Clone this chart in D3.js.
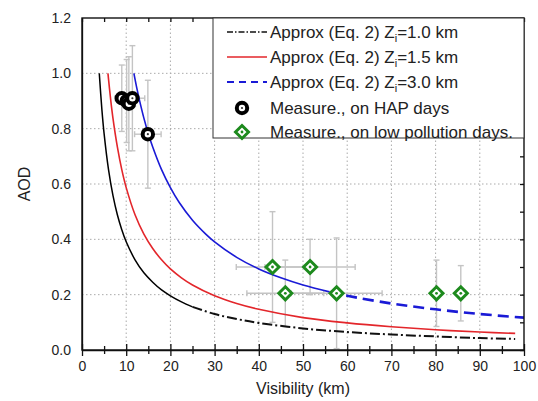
<!DOCTYPE html>
<html>
<head>
<meta charset="utf-8">
<script src="https://cdn.jsdelivr.net/npm/d3@7"></script>
<style>
  body { margin: 0; background: #fff; }
  svg { display: block; font-family: "Liberation Sans", Arial, sans-serif; }
</style>
</head>
<body>
<svg id="chart" width="538" height="401"></svg>
<script>
// approximation curves, values
const blackVis = [3.91, 4.5, 5, 6, 7, 8, 9, 10, 12, 14, 16, 18, 20, 22.5, 25, 30, 35, 40, 50, 60, 70, 80, 90, 98]
const blackAod = [1.0, 0.869, 0.782, 0.652, 0.559, 0.489, 0.435, 0.391, 0.326, 0.279, 0.245, 0.217, 0.196, 0.174, 0.156, 0.130, 0.112, 0.098, 0.078, 0.065, 0.056, 0.049, 0.043, 0.040]

const redVis = [5.87, 6.5, 7, 8, 9, 10, 12, 14, 16, 18, 20, 22.5, 25, 30, 35, 40, 50, 60, 70, 80, 90, 98]
const redAod = [1.0, 0.903, 0.838, 0.734, 0.652, 0.587, 0.489, 0.419, 0.367, 0.326, 0.293, 0.261, 0.235, 0.196, 0.168, 0.147, 0.117, 0.098, 0.084, 0.073, 0.065, 0.060]

const blueVis = [11.74, 12.5, 13, 14, 15, 16, 18, 20, 22, 25, 28, 30, 35, 40, 45, 50, 56, 60, 70, 80, 90, 100]
const blueAod = [1.0, 0.939, 0.903, 0.838, 0.782, 0.734, 0.652, 0.587, 0.533, 0.469, 0.419, 0.391, 0.335, 0.293, 0.261, 0.235, 0.210, 0.196, 0.168, 0.147, 0.130, 0.117]

// measurements on HAP days
const hapVis = [9.0, 10.1, 10.6, 11.4, 14.9]
const hapAod = [0.91, 0.90, 0.89, 0.91, 0.78]
const hapVisErr = [1.5, 1.2, 1.5, 2.8, 3.0]
const hapAodErr = [0.12, 0.15, 0.17, 0.19, 0.195]

// measurements on low pollution days
const lowVis = [43.1, 46.0, 51.6, 57.6, 80.2, 85.7]
const lowAod = [0.30, 0.205, 0.30, 0.205, 0.205, 0.205]
const lowVisErr = [8.2, 8.7, 10.2, 10.3, 0, 0]
const lowAodErr = [0.2, 0.12, 0.1, 0.2, 0.12, 0.1]

const xTicks = [0, 10, 20, 30, 40, 50, 60, 70, 80, 90, 100]
const xMinor = [5, 15, 25, 35, 45, 55, 65, 75, 85, 95]
const yTicks = [0, 0.2, 0.4, 0.6, 0.8, 1.0, 1.2]
const yMinor = [0.1, 0.3, 0.5, 0.7, 0.9, 1.1]

const legendLabels = ['=1.0 km', '=1.5 km', '=3.0 km']

const svg = d3.select('#chart')
const x = d3.scaleLinear().domain([0, 100]).range([82, 524])
const y = d3.scaleLinear().domain([0, 1.2]).range([350, 18])

// grid
svg.append('g').selectAll('line')
  .data(xTicks.slice(1, -1))
  .join('line')
    .attr('x1', d => x(d)).attr('x2', d => x(d))
    .attr('y1', y(0)).attr('y2', y(1.2))
    .attr('stroke', '#aaa').attr('stroke-dasharray', '1.5,2.5')
svg.append('g').selectAll('line')
  .data(yTicks.slice(1, -1))
  .join('line')
    .attr('y1', d => y(d)).attr('y2', d => y(d))
    .attr('x1', x(0)).attr('x2', x(100))
    .attr('stroke', '#aaa').attr('stroke-dasharray', '1.5,2.5')

// error bars
const errColor = '#c4c4c4'
function errorBars(vis, aod, vErr, aErr) {
  const g = svg.append('g').attr('stroke', errColor).attr('stroke-width', 1.4)
  vis.forEach((v, i) => {
    const a = aod[i]
    if (aErr[i] > 0) {
      g.append('line').attr('x1', x(v)).attr('x2', x(v)).attr('y1', y(a - aErr[i])).attr('y2', y(a + aErr[i]))
      g.append('line').attr('x1', x(v) - 3).attr('x2', x(v) + 3).attr('y1', y(a - aErr[i])).attr('y2', y(a - aErr[i]))
      g.append('line').attr('x1', x(v) - 3).attr('x2', x(v) + 3).attr('y1', y(a + aErr[i])).attr('y2', y(a + aErr[i]))
    }
    if (vErr[i] > 0) {
      g.append('line').attr('y1', y(a)).attr('y2', y(a)).attr('x1', x(v - vErr[i])).attr('x2', x(v + vErr[i]))
      g.append('line').attr('y1', y(a) - 3).attr('y2', y(a) + 3).attr('x1', x(v - vErr[i])).attr('x2', x(v - vErr[i]))
      g.append('line').attr('y1', y(a) - 3).attr('y2', y(a) + 3).attr('x1', x(v + vErr[i])).attr('x2', x(v + vErr[i]))
    }
  })
}
errorBars(lowVis, lowAod, lowVisErr, lowAodErr)
errorBars(hapVis, hapAod, hapVisErr, hapAodErr)

// curves
const line = d3.line().x(d => x(d[0])).y(d => y(d[1])).curve(d3.curveCatmullRom.alpha(0.5))
const pts = (vs, as) => vs.map((v, i) => [v, as[i]])
const black = pts(blackVis, blackAod)
const red = pts(redVis, redAod)
const blue = pts(blueVis, blueAod)

svg.append('path').attr('d', line(black.filter(d => d[0] <= 25)))
  .attr('fill', 'none').attr('stroke', '#000').attr('stroke-width', 1.5)
svg.append('path').attr('d', line(black.filter(d => d[0] >= 25)))
  .attr('fill', 'none').attr('stroke', '#111').attr('stroke-width', 2)
  .attr('stroke-dasharray', '10,3,2,3')
svg.append('path').attr('d', line(red))
  .attr('fill', 'none').attr('stroke', '#e3262b').attr('stroke-width', 1.6)
svg.append('path').attr('d', line(blue.filter(d => d[0] <= 56)))
  .attr('fill', 'none').attr('stroke', '#1a1ad6').attr('stroke-width', 1.6)
svg.append('path').attr('d', line(blue.filter(d => d[0] >= 56)))
  .attr('fill', 'none').attr('stroke', '#1a1ad6').attr('stroke-width', 2.6)
  .attr('stroke-dasharray', '11,6')

// markers
function hapMarker(g, cx, cy) {
  g.append('circle').attr('cx', cx).attr('cy', cy).attr('r', 5.2).attr('fill', '#fff')
    .attr('stroke', '#000').attr('stroke-width', 4)
  g.append('circle').attr('cx', cx).attr('cy', cy).attr('r', 1.1).attr('fill', '#333')
}
function lowMarker(g, cx, cy) {
  const s = 6.5
  g.append('path').attr('d', `M${cx},${cy - s}L${cx + s},${cy}L${cx},${cy + s}L${cx - s},${cy}Z`)
    .attr('fill', '#fff').attr('stroke', '#1d8a1d').attr('stroke-width', 3)
  g.append('circle').attr('cx', cx).attr('cy', cy).attr('r', 1.4).attr('fill', '#1d8a1d')
}
const mk = svg.append('g')
hapVis.forEach((v, i) => hapMarker(mk, x(v), y(hapAod[i])))
lowVis.forEach((v, i) => lowMarker(mk, x(v), y(lowAod[i])))

// axes
function crossTicks(g, size, dir) {
  g.selectAll('.tick line').attr(dir, -size)
}
const gx = svg.append('g').attr('transform', `translate(0,${y(0)})`)
  .call(d3.axisBottom(x).tickValues(xTicks).tickSizeInner(6).tickSizeOuter(0).tickPadding(5).tickFormat(d3.format('d')))
crossTicks(gx, 6, 'y1')
const gxm = svg.append('g').attr('transform', `translate(0,${y(0)})`)
  .call(d3.axisBottom(x).tickValues(xMinor).tickSizeInner(4).tickSizeOuter(0).tickFormat(''))
crossTicks(gxm, 4, 'y1')
gxm.select('.domain').remove()

const gy = svg.append('g').attr('transform', `translate(${x(0)},0)`)
  .call(d3.axisLeft(y).tickValues(yTicks).tickSizeInner(6).tickSizeOuter(0).tickPadding(5).tickFormat(d3.format('.1f')))
crossTicks(gy, 6, 'x1')
const gym = svg.append('g').attr('transform', `translate(${x(0)},0)`)
  .call(d3.axisLeft(y).tickValues(yMinor).tickSizeInner(4).tickSizeOuter(0).tickFormat(''))
crossTicks(gym, 4, 'x1')
gym.select('.domain').remove()

// top and right mirror ticks
svg.append('g').attr('transform', `translate(0,${y(1.2)})`)
  .call(d3.axisTop(x).tickValues(xTicks.concat(xMinor)).tickSizeInner(-4).tickSizeOuter(0).tickFormat(''))
  .select('.domain').remove()
svg.append('g').attr('transform', `translate(${x(100)},0)`)
  .call(d3.axisRight(y).tickValues(yTicks.concat(yMinor)).tickSizeInner(-4).tickSizeOuter(0).tickFormat(''))
  .select('.domain').remove()

svg.selectAll('.tick text').attr('font-size', 14).attr('fill', '#222')
  .attr('font-family', '"Liberation Sans", Arial, sans-serif')
svg.selectAll('.tick line, .domain').attr('stroke', '#111').attr('stroke-width', 1.3)

// frame
svg.append('rect').attr('x', x(0)).attr('y', y(1.2))
  .attr('width', x(100) - x(0)).attr('height', y(0) - y(1.2))
  .attr('fill', 'none').attr('stroke', '#111').attr('stroke-width', 1.4)

// axis titles
svg.append('text').attr('x', (x(0) + x(100)) / 2).attr('y', 394)
  .attr('text-anchor', 'middle').attr('font-size', 16).attr('fill', '#222')
  .text('Visibility (km)')
svg.append('text').attr('transform', `translate(30,${y(0.6)}) rotate(-90)`)
  .attr('text-anchor', 'middle').attr('font-size', 16).attr('fill', '#222')
  .text('AOD')

// legend
const lg = svg.append('g')
lg.append('rect').attr('x', 213).attr('y', y(1.2)).attr('width', x(100) - 213).attr('height', 120)
  .attr('fill', '#fff').attr('stroke', '#333').attr('stroke-width', 1)
const rowY = [32, 57, 82, 108, 132]
const lineStyles = [
  { stroke: '#111', width: 1.6, dash: '6,2,1.5,2' },
  { stroke: '#e3262b', width: 1.6, dash: null },
  { stroke: '#1a1ad6', width: 2.2, dash: '7,5' }
]
lineStyles.forEach((s, i) => {
  lg.append('line').attr('x1', 227).attr('x2', 267).attr('y1', rowY[i]).attr('y2', rowY[i])
    .attr('stroke', s.stroke).attr('stroke-width', s.width).attr('stroke-dasharray', s.dash)
  const t = lg.append('text').attr('x', 270).attr('y', rowY[i] + 6).attr('font-size', 17).attr('fill', '#222')
  t.append('tspan').text('Approx (Eq. 2) Z')
  t.append('tspan').attr('font-size', 11).attr('dy', 4).text('i')
  t.append('tspan').attr('dy', -4).text(legendLabels[i])
})
hapMarker(lg, 242, rowY[3])
lowMarker(lg, 242, rowY[4])
lg.append('text').attr('x', 270).attr('y', rowY[3] + 6).attr('font-size', 17).attr('fill', '#222')
  .text('Measure., on HAP days')
lg.append('text').attr('x', 270).attr('y', rowY[4] + 6).attr('font-size', 17).attr('fill', '#222')
  .text('Measure., on low pollution days.')
</script>
</body>
</html>
